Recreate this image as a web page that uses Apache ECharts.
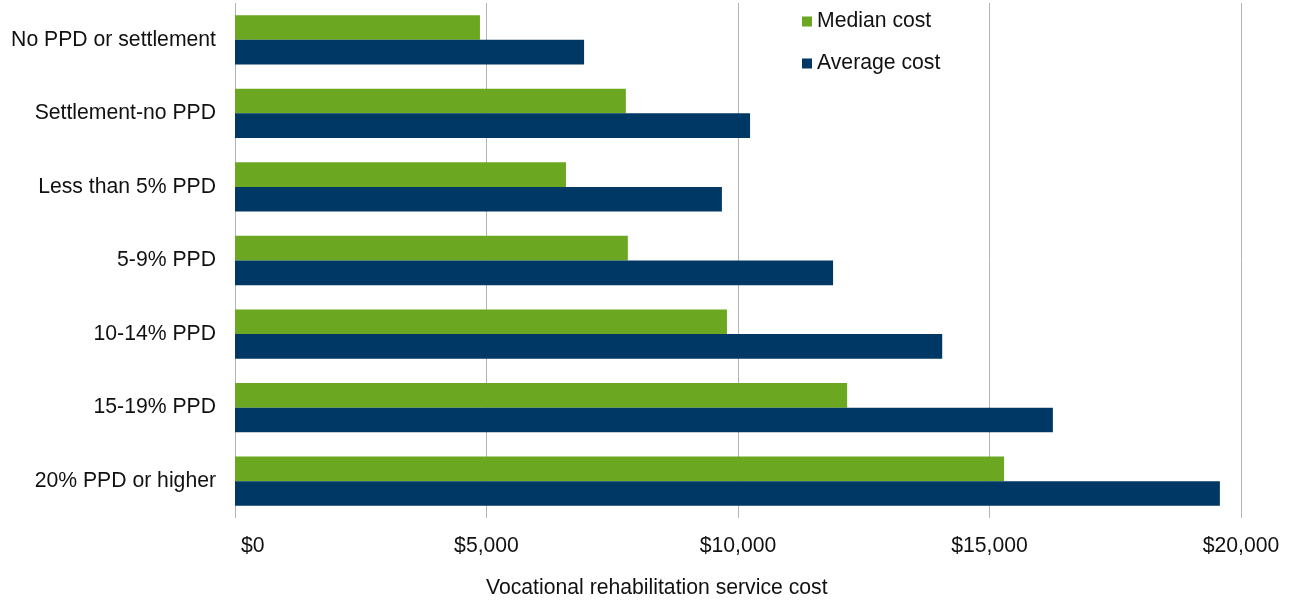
<!DOCTYPE html>
<html>
<head>
<meta charset="utf-8">
<script src="https://cdn.jsdelivr.net/npm/echarts@6/dist/echarts.min.js"></script>
<style>
  html, body { margin: 0; padding: 0; background: #fff; }
  #chart { width: 1294px; height: 602px; }
</style>
</head>
<body>
<div id="chart"></div>
<script>
// Vocational rehabilitation service cost by disability group
const categories = [
  'No PPD or settlement',
  'Settlement-no PPD',
  'Less than 5% PPD',
  '5-9% PPD',
  '10-14% PPD',
  '15-19% PPD',
  '20% PPD or higher'
];
const medianCost  = [4870, 7770, 6580, 7810, 9780, 12170, 15290];
const averageCost = [6940, 10240, 9680, 11890, 14060, 16260, 19580];
const xTicks = [0, 5000, 10000, 15000, 20000];

const FONT = '"Liberation Sans", Arial, sans-serif';
const FS = 21.2;
const INK = '#111111';
const GREEN = '#6ba721';
const NAVY = '#003865';

const chart = echarts.init(document.getElementById('chart'));

function money(v) {
  return '$' + v.toLocaleString('en-US');
}

chart.setOption({
  animation: false,
  backgroundColor: '#ffffff',
  textStyle: { fontFamily: FONT },
  grid: { left: 235, right: 53, top: 3, bottom: 84, containLabel: false },
  legend: {
    orient: 'vertical',
    left: 797,
    top: 6,
    icon: 'rect',
    itemWidth: 10,
    itemHeight: 10,
    itemGap: 21,
    textStyle: { fontFamily: FONT, fontSize: FS, color: INK },
    data: ['Median cost', 'Average cost']
  },
  xAxis: {
    type: 'value',
    min: xTicks[0],
    max: xTicks[xTicks.length - 1],
    interval: xTicks[1] - xTicks[0],
    axisLine: { show: false },
    axisTick: { show: false },
    splitLine: { show: true, lineStyle: { color: '#b3b3b3', width: 1 } },
    axisLabel: {
      margin: 18,
      fontFamily: FONT,
      fontSize: FS,
      color: INK,
      alignMinLabel: 'left',
      formatter: function (v) {
        return v === 0 ? '{first|' + money(v) + '}' : money(v);
      },
      rich: {
        first: { fontFamily: FONT, fontSize: FS, color: INK, padding: [0, 0, 0, 6] }
      }
    }
  },
  yAxis: {
    type: 'category',
    inverse: true,
    data: categories,
    axisLine: { show: false },
    axisTick: { show: false },
    splitLine: { show: false },
    axisLabel: { margin: 19, fontFamily: FONT, fontSize: FS, color: INK }
  },
  graphic: [{
    type: 'text',
    left: 486,
    top: 578,
    style: {
      text: 'Vocational rehabilitation service cost',
      font: FS + 'px ' + FONT,
      fill: INK
    }
  }],
  series: [
    {
      name: 'Median cost',
      type: 'bar',
      data: medianCost,
      barGap: '0%',
      barCategoryGap: '33%',
      itemStyle: { color: GREEN }
    },
    {
      name: 'Average cost',
      type: 'bar',
      data: averageCost,
      barGap: '0%',
      barCategoryGap: '33%',
      itemStyle: { color: NAVY }
    }
  ]
});
</script>
</body>
</html>
